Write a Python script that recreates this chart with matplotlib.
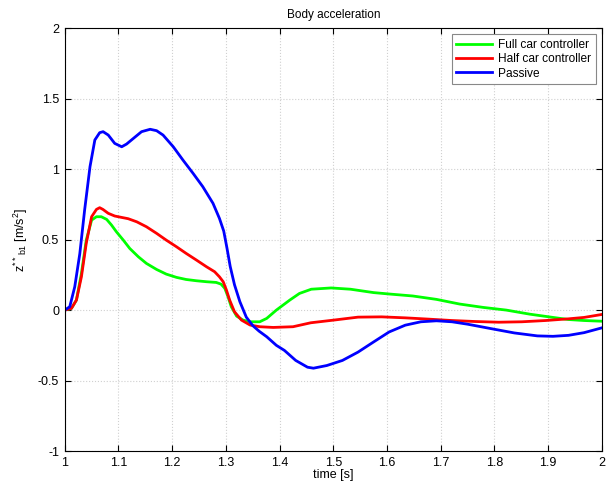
import numpy as np
import matplotlib
matplotlib.use('Agg')
import matplotlib.pyplot as plt

plt.rcParams['font.family'] = ['Liberation Sans', 'DejaVu Sans']
plt.rcParams['mathtext.default'] = 'regular'

# --- data ---
t_full = [1.0, 1.0124, 1.0217, 1.031, 1.040, 1.050, 1.059, 1.068, 1.078, 1.087, 1.096,
          1.109, 1.121, 1.137, 1.152, 1.171, 1.189, 1.208, 1.226, 1.245, 1.264, 1.282,
          1.291, 1.298, 1.304, 1.310, 1.320, 1.332, 1.345, 1.363, 1.376, 1.394, 1.419,
          1.437, 1.459, 1.496, 1.532, 1.575, 1.604, 1.648, 1.692, 1.735, 1.779, 1.822,
          1.866, 1.909, 1.938, 1.967, 2.0]
full_car = [0.0, 0.012, 0.071, 0.26, 0.496, 0.638, 0.662, 0.662, 0.643, 0.603, 0.556,
            0.496, 0.437, 0.378, 0.331, 0.288, 0.255, 0.232, 0.217, 0.208, 0.201, 0.196,
            0.184, 0.154, 0.095, 0.024, -0.043, -0.071, -0.083, -0.083, -0.059, 0.0, 0.071,
            0.118, 0.148, 0.157, 0.148, 0.124, 0.114, 0.10, 0.076, 0.043, 0.019, 0.0,
            -0.029, -0.052, -0.067, -0.074, -0.079]

t_half = [1.0, 1.0124, 1.0217, 1.031, 1.040, 1.050, 1.059, 1.065, 1.071, 1.081, 1.093,
          1.106, 1.118, 1.134, 1.152, 1.171, 1.189, 1.208, 1.226, 1.245, 1.264, 1.279,
          1.288, 1.295, 1.301, 1.307, 1.316, 1.329, 1.345, 1.363, 1.388, 1.425, 1.458,
          1.503, 1.546, 1.590, 1.634, 1.677, 1.721, 1.764, 1.808, 1.851, 1.895, 1.938,
          1.967, 2.0]
half_car = [0.0, 0.012, 0.071, 0.236, 0.473, 0.662, 0.714, 0.726, 0.714, 0.686, 0.667,
            0.657, 0.648, 0.626, 0.591, 0.544, 0.496, 0.449, 0.402, 0.355, 0.307, 0.272,
            0.236, 0.201, 0.142, 0.071, -0.012, -0.071, -0.106, -0.118, -0.123, -0.118, -0.09,
            -0.07, -0.05, -0.048, -0.055, -0.064, -0.074, -0.081, -0.086, -0.083, -0.074,
            -0.062, -0.052, -0.031]

t_pass = [1.0, 1.0093, 1.0186, 1.028, 1.037, 1.047, 1.056, 1.065, 1.0714, 1.081, 1.093,
          1.106, 1.115, 1.128, 1.143, 1.159, 1.171, 1.183, 1.202, 1.220, 1.239, 1.257,
          1.276, 1.288, 1.296, 1.302, 1.308, 1.316, 1.326, 1.338, 1.350, 1.362, 1.376, 1.394,
          1.409, 1.430, 1.452, 1.463, 1.488, 1.517, 1.546, 1.575, 1.604, 1.634, 1.663,
          1.692, 1.721, 1.750, 1.793, 1.837, 1.880, 1.909, 1.938, 1.967, 2.0]
passive = [0.0, 0.024, 0.165, 0.40, 0.71, 1.017, 1.206, 1.258, 1.265, 1.241, 1.182,
           1.158, 1.177, 1.218, 1.265, 1.282, 1.272, 1.241, 1.158, 1.064, 0.969, 0.875,
           0.757, 0.650, 0.56, 0.44, 0.31, 0.18, 0.06, -0.05, -0.11, -0.15, -0.189, -0.25,
           -0.286, -0.357, -0.405, -0.412, -0.393, -0.357, -0.298, -0.226, -0.155, -0.107,
           -0.083, -0.076, -0.083, -0.10, -0.131, -0.162, -0.183, -0.186, -0.179, -0.160,
           -0.126]

fig = plt.figure(figsize=(6.11, 4.83), dpi=100)
ax = fig.add_axes([0.106, 0.066, 0.879, 0.876])

ax.plot(t_full, full_car, color='#00ff00', lw=2, label='Full car controller')
ax.plot(t_half, half_car, color='#ff0000', lw=2, label='Half car controller')
ax.plot(t_pass, passive, color='#0000ff', lw=2, label='Passive')

ax.set_xlim(1, 2)
ax.set_ylim(-1, 2)
ax.set_xticks(np.arange(1, 2.01, 0.1))
ax.set_xticklabels(['1', '1.1', '1.2', '1.3', '1.4', '1.5', '1.6', '1.7', '1.8', '1.9', '2'])
ax.set_yticks([-1, -0.5, 0, 0.5, 1, 1.5, 2])
ax.set_yticklabels(['-1', '-0.5', '0', '0.5', '1', '1.5', '2'])
ax.tick_params(direction='in', top=True, right=True, labelsize=9, length=4, pad=4)
ax.grid(True, linestyle=':', color='#d0d0d0', lw=0.8)
for s in ax.spines.values():
    s.set_linewidth(0.8)

ax.set_title('Body acceleration', fontsize=8.5, pad=7)
ax.set_xlabel('time [s]', fontsize=9, labelpad=0)
ax.set_ylabel(r'z$^{**}$$_{b1}$ [m/s$^2$]', fontsize=9, labelpad=6)

leg = ax.legend(loc='upper right', fontsize=8.6, fancybox=False, framealpha=1,
                edgecolor='#888888', handlelength=3.0, borderpad=0.4, labelspacing=0.2,
                handletextpad=0.5, borderaxespad=0.5)
leg.get_frame().set_linewidth(0.8)

fig.savefig('out.png', dpi=100)
